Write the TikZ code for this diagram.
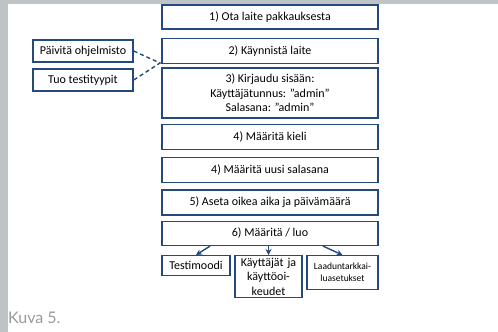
\documentclass[tikz,border=0pt]{standalone}
\usepackage{fontspec}
\setmainfont{Carlito}
\newfontfamily\captionfont{Lato}
\usepackage{xcolor}
\usetikzlibrary{positioning,arrows.meta}
\definecolor{boxblue}{RGB}{36,74,125}
\definecolor{framegray}{RGB}{190,195,198}
\definecolor{captiongray}{RGB}{150,155,158}

\begin{document}
\begin{tikzpicture}[x=1pt, y=-1pt, >={Stealth[length=6pt,width=6pt]},
  every node/.style={align=center, inner sep=1pt},
  stepbox/.style={draw=boxblue, line width=1.4pt, minimum width=216pt, minimum height=25pt, font=\fontsize{12}{14.5}\selectfont},
  sidebox/.style={draw=boxblue, line width=1.4pt, minimum width=100pt, minimum height=22pt, font=\fontsize{12}{14.5}\selectfont},
  leafbox/.style={draw=boxblue, line width=1.4pt, anchor=north, font=\fontsize{12}{14.5}\selectfont},
  link/.style={draw=boxblue, line width=1.4pt}]
  \useasboundingbox (0,0) rectangle (498,332);
  % frame
  \fill[framegray] (0,0) rectangle (498,4);
  \fill[framegray] (0,0) rectangle (8,332);
  % main column
  \node[stepbox, minimum height=24pt] (ota) at (270,17) {1) Ota laite pakkauksesta};
  \node[stepbox, below=8pt of ota] (kaynnista) {2) Käynnistä laite};
  \node[stepbox, below=3pt of kaynnista, minimum height=50pt] (kirjaudu) {3) Kirjaudu sisään:\\Käyttäjätunnus: ”admin”\\Salasana: ”admin”};
  \node[stepbox, below=5pt of kirjaudu] (kieli) {4) Määritä kieli};
  \node[stepbox, below=7pt of kieli] (salasana) {4) Määritä uusi salasana};
  \node[stepbox, below=6pt of salasana] (aika) {5) Aseta oikea aika ja päivämäärä};
  \node[stepbox, below=5pt of aika, minimum height=24pt] (luo) {6) Määritä / luo};
  % side tasks
  \node[sidebox] (paivita) at (83,51) {Päivitä ohjelmisto};
  \node[sidebox] (tuo) at (83,80) {Tuo testityypit};
  \coordinate (liitos) at (160,63);
  \draw[link, dash pattern=on 4pt off 3pt] (paivita.east) -- (liitos) -- (tuo.east);
  % leaves
  \node[leafbox, minimum width=68pt, minimum height=20pt] (testi) at (196,255) {Testimoodi};
  \node[leafbox, minimum width=67pt, minimum height=42pt, text width=64pt] (kayttajat) at (268.5,255) {Käyttäjät ja\\käyttöoi-\\keudet};
  \node[leafbox, minimum width=71pt, minimum height=34pt, font=\fontsize{9.5}{12}\selectfont] (laatu) at (342.5,255) {Laaduntarkkai-\\luasetukset};
  \draw[link, ->] ([xshift=-60pt]luo.south) -- (testi.north);
  \draw[link, ->] (luo.south -| kayttajat.north) -- (kayttajat.north);
  \draw[link, ->] ([xshift=53pt]luo.south) -- (laatu.north);
  % caption
  \node[anchor=west, inner sep=0pt, text=captiongray, font=\captionfont\fontsize{16}{18}\selectfont] (kuva) at (8,318) {Kuva 5.};
\end{tikzpicture}
\end{document}
